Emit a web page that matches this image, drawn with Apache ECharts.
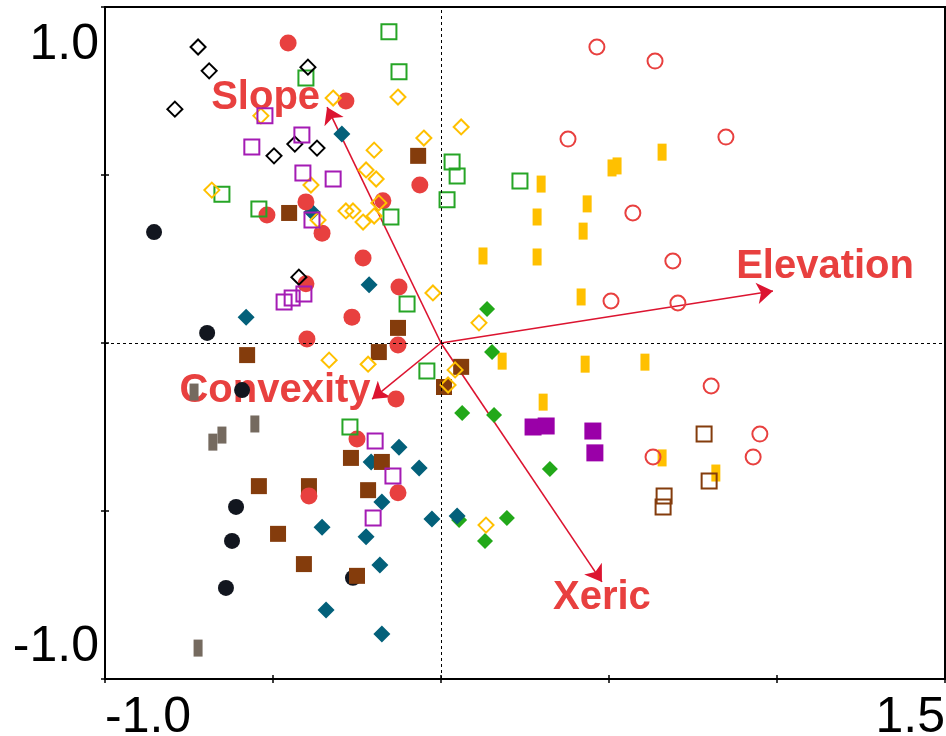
<!DOCTYPE html>
<html>
<head>
<meta charset="utf-8">
<script src="https://cdn.jsdelivr.net/npm/echarts@6/dist/echarts.min.js"></script>
<style>
  html, body { margin: 0; padding: 0; background: #fff; }
  #chart { width: 946px; height: 736px; }
</style>
</head>
<body>
<div id="chart"></div>
<script>
// axis labels (only the ends are printed)
const xTickLabels = [-1.0, 1.5];
const yTickLabels = [-1.0, 1.0];

// environmental vectors: tip of each arrow, and where its name sits
const vectorNames = ['Slope', 'Elevation', 'Convexity', 'Xeric'];
const vectorEnds = [[-0.339, 0.702], [0.988, 0.155], [-0.205, -0.167], [0.479, -0.711]];
const vectorLabelAt = [[-0.522, 0.729], [1.143, 0.226], [-0.494, -0.143], [0.479, -0.759]];

// sample scores, one array per group
const redDots = [[-0.455,0.893],[-0.283,0.720],[-0.063,0.470],[-0.173,0.423],[-0.402,0.420],[-0.518,0.381],[-0.354,0.327],[-0.232,0.253],[-0.402,0.176],[-0.125,0.167],[-0.265,0.077],[-0.399,0.012],[-0.128,-0.006],[-0.134,-0.167],[-0.250,-0.286],[-0.128,-0.446],[-0.393,-0.455]];
const redRings = [[0.464,0.881],[0.637,0.839],[0.378,0.607],[0.848,0.613],[0.571,0.387],[0.690,0.244],[0.705,0.119],[0.506,0.125],[0.804,-0.128],[0.949,-0.271],[0.631,-0.339],[0.929,-0.339]];
const blackDots = [[-0.854,0.330],[-0.696,0.030],[-0.592,-0.140],[-0.610,-0.488],[-0.622,-0.589],[-0.640,-0.729],[-0.262,-0.699]];
const blackDiamonds = [[-0.723,0.881],[-0.690,0.810],[-0.396,0.821],[-0.792,0.696],[-0.435,0.592],[-0.497,0.557],[-0.369,0.580],[-0.423,0.196]];
const orangeDiamonds = [[-0.536,0.676],[-0.387,0.470],[-0.682,0.455],[-0.366,0.366],[-0.321,0.729],[-0.128,0.732],[0.060,0.643],[-0.051,0.610],[-0.199,0.574],[-0.223,0.515],[-0.193,0.488],[-0.283,0.393],[-0.262,0.393],[-0.185,0.417],[-0.232,0.360],[-0.199,0.378],[-0.024,0.149],[0.113,0.060],[-0.333,-0.051],[-0.217,-0.063],[0.042,-0.080],[0.021,-0.125],[0.134,-0.542]];
const greenBoxes = [[-0.155,0.926],[-0.125,0.807],[-0.402,0.789],[-0.652,0.443],[-0.542,0.399],[-0.149,0.375],[0.033,0.539],[0.048,0.497],[0.018,0.426],[0.235,0.482],[-0.101,0.116],[-0.042,-0.083],[-0.271,-0.250]];
const purpleBoxes = [[-0.524,0.676],[-0.563,0.583],[-0.414,0.619],[-0.411,0.506],[-0.321,0.488],[-0.384,0.366],[-0.467,0.122],[-0.443,0.134],[-0.408,0.146],[-0.196,-0.292],[-0.143,-0.396],[-0.202,-0.521]];
const brownBlocks = [[-0.452,0.387],[-0.068,0.557],[-0.577,-0.036],[-0.128,0.045],[-0.185,-0.027],[0.060,-0.071],[0.009,-0.131],[-0.268,-0.342],[-0.176,-0.354],[-0.217,-0.438],[-0.542,-0.426],[-0.393,-0.426],[-0.485,-0.568],[-0.408,-0.658],[-0.250,-0.693]];
const brownBoxes = [[0.783,-0.271],[0.798,-0.411],[0.664,-0.455],[0.661,-0.488]];
const grayBars = [[-0.735,-0.146],[-0.679,-0.295],[-0.652,-0.274],[-0.554,-0.241],[-0.723,-0.908]];
const goldBars = [[0.298,0.473],[0.509,0.521],[0.524,0.527],[0.658,0.568],[0.435,0.414],[0.423,0.333],[0.286,0.375],[0.125,0.259],[0.286,0.256],[0.417,0.137],[0.182,-0.054],[0.429,-0.063],[0.607,-0.057],[0.304,-0.176],[0.658,-0.342],[0.818,-0.387]];
const greenDiamonds = [[0.137,0.101],[0.152,-0.027],[0.063,-0.208],[0.158,-0.214],[0.324,-0.375],[0.054,-0.527],[0.196,-0.521],[0.131,-0.589]];
const tealDiamonds = [[-0.295,0.622],[-0.384,0.390],[-0.214,0.173],[-0.580,0.077],[-0.125,-0.310],[-0.208,-0.354],[-0.065,-0.372],[-0.176,-0.473],[-0.354,-0.548],[-0.223,-0.577],[-0.027,-0.524],[0.048,-0.515],[-0.182,-0.661],[-0.342,-0.795],[-0.176,-0.866]];
const purpleBlocks = [[0.274,-0.250],[0.313,-0.247],[0.452,-0.262],[0.458,-0.327]];

const FONT = '"Liberation Sans", Arial, sans-serif';
const RED = '#e8403f';
const ARROW = '#dc1430';

function pts(data, symbol, size, color, hollow) {
  return {
    type: 'scatter',
    data: data,
    symbol: symbol,
    symbolSize: size,
    z: 3,
    itemStyle: hollow
      ? { color: 'rgba(0,0,0,0)', borderColor: color, borderWidth: 2, opacity: 1 }
      : { color: color, opacity: 1 },
    emphasis: { disabled: true }
  };
}

function tickFmt(list) {
  return v => list.some(t => Math.abs(t - v) < 1e-9) ? v.toFixed(1) : '';
}

const chart = echarts.init(document.getElementById('chart'));

const option = {
  animation: false,
  backgroundColor: '#fff',
  grid: {
    left: 105, top: 7, right: 1, bottom: 57,
    outerBoundsMode: 'none', containLabel: false,
    show: true, borderColor: '#000', borderWidth: 2
  },
  xAxis: [{
    type: 'value', min: -1, max: 1.5, interval: 0.5, position: 'bottom',
    axisLine: { show: true, onZero: false, lineStyle: { color: '#000', width: 2 } },
    axisTick: { show: true, length: 4, lineStyle: { color: '#000', width: 1.5 } },
    splitLine: { show: false },
    axisLabel: {
      show: true, fontSize: 50, color: '#000', fontFamily: FONT, margin: 14,
      showMinLabel: true, showMaxLabel: true, hideOverlap: false,
      alignMinLabel: 'left', alignMaxLabel: 'right',
      formatter: tickFmt(xTickLabels)
    }
  }, {
    type: 'value', min: -1, max: 1.5, interval: 0.5, position: 'bottom',
    axisLine: { show: false, onZero: false },
    axisTick: { show: true, inside: true, length: 4, lineStyle: { color: '#000', width: 1.5 } },
    splitLine: { show: false },
    axisLabel: { show: false }
  }],
  yAxis: [{
    type: 'value', min: -1, max: 1, interval: 0.5, position: 'left',
    axisLine: { show: true, onZero: false, lineStyle: { color: '#000', width: 2 } },
    axisTick: { show: true, length: 4, lineStyle: { color: '#000', width: 1.5 } },
    splitLine: { show: false },
    axisLabel: {
      show: true, fontSize: 50, color: '#000', fontFamily: FONT, margin: 6,
      showMinLabel: true, showMaxLabel: true, hideOverlap: false,
      verticalAlignMinLabel: 'bottom', verticalAlignMaxLabel: 'top',
      padding: [13, 0, 7, 0],
      formatter: tickFmt(yTickLabels)
    }
  }, {
    type: 'value', min: -1, max: 1, interval: 0.5, position: 'left',
    axisLine: { show: false, onZero: false },
    axisTick: { show: true, inside: true, length: 4, lineStyle: { color: '#000', width: 1.5 } },
    splitLine: { show: false },
    axisLabel: { show: false }
  }],
  series: [
    {
      // vector names + dashed zero lines
      type: 'scatter',
      z: 1,
      symbolSize: 1,
      itemStyle: { color: 'rgba(0,0,0,0)', opacity: 1 },
      data: vectorNames.map((n, i) => ({ name: n, value: vectorLabelAt[i] })),
      label: {
        show: true, position: 'inside', formatter: '{b}', opacity: 1,
        fontSize: 40, fontWeight: 'bold', color: RED, fontFamily: FONT
      },
      markLine: {
        silent: true, symbol: 'none', animation: false,
        label: { show: false },
        lineStyle: { color: '#000', type: [3, 3], width: 1 },
        data: [{ xAxis: 0 }, { yAxis: 0 }]
      }
    },
    {
      type: 'lines',
      coordinateSystem: 'cartesian2d',
      z: 2,
      symbol: ['none', 'arrow'],
      symbolSize: [10, 16],
      lineStyle: { color: ARROW, width: 1.6, opacity: 1 },
      data: vectorEnds.map(e => ({ coords: [[0, 0], e] }))
    },
    pts(goldBars, 'rect', [9, 17], '#ffc000', false),
    pts(grayBars, 'rect', [9, 17], '#756a5f', false),
    pts(redRings, 'circle', 15, RED, true),
    pts(brownBoxes, 'rect', 15, '#843c0c', true),
    pts(greenDiamonds, 'diamond', 16, '#22a819', false),
    pts(tealDiamonds, 'diamond', 17, '#03607a', false),
    pts(blackDots, 'circle', 16, '#12161f', false),
    pts(brownBlocks, 'rect', 16, '#843c0c', false),
    pts(redDots, 'circle', 17, RED, false),
    pts(greenBoxes, 'rect', 15, '#26a526', true),
    pts(blackDiamonds, 'diamond', 15, '#000', true),
    pts(orangeDiamonds, 'diamond', 15, '#ffc000', true),
    pts(purpleBoxes, 'rect', 15, '#a41bb4', true),
    pts(purpleBlocks, 'rect', 17, '#9a00a8', false)
  ]
};

chart.setOption(option);
</script>
</body>
</html>
